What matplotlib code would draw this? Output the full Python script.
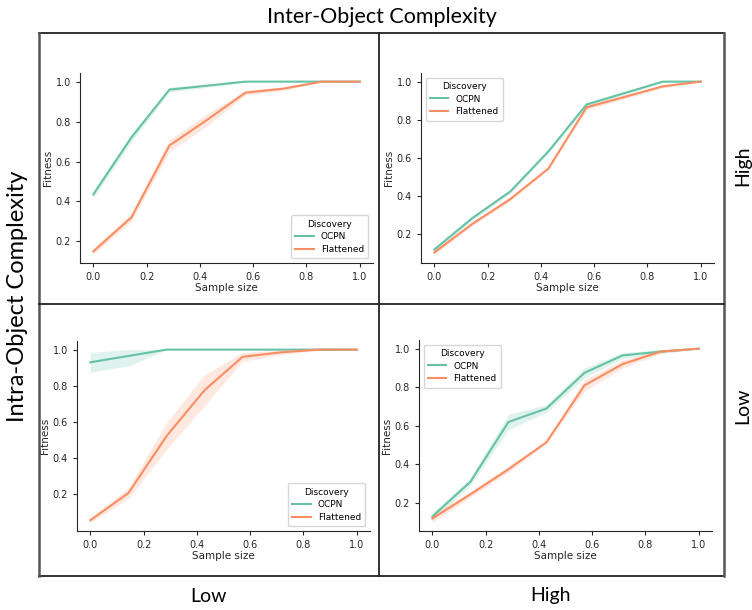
import matplotlib
matplotlib.use("Agg")
import matplotlib.pyplot as plt
from matplotlib.lines import Line2D
import numpy as np

# sample sizes (8 steps)
sample_size = [0.0, 1/7, 2/7, 3/7, 4/7, 5/7, 6/7, 1.0]

# top-left: inter low / intra high
tl_ocpn = [0.435, 0.72, 0.96, 0.98, 1.0, 1.0, 1.0, 1.0]
tl_ocpn_err = [0.02, 0.02, 0.012, 0.008, 0.003, 0.0, 0.0, 0.0]
tl_flat = [0.15, 0.32, 0.68, 0.81, 0.945, 0.965, 1.0, 1.0]
tl_flat_err = [0.015, 0.02, 0.03, 0.03, 0.012, 0.008, 0.004, 0.0]

# top-right: inter high / intra high
tr_ocpn = [0.12, 0.285, 0.425, 0.635, 0.88, 0.94, 1.0, 1.0]
tr_ocpn_err = [0.01, 0.012, 0.01, 0.01, 0.012, 0.01, 0.004, 0.0]
tr_flat = [0.105, 0.255, 0.385, 0.545, 0.865, 0.92, 0.975, 1.0]
tr_flat_err = [0.01, 0.01, 0.01, 0.006, 0.012, 0.01, 0.008, 0.0]

# bottom-left: inter low / intra low
bl_ocpn = [0.93, 0.965, 1.0, 1.0, 1.0, 1.0, 1.0, 1.0]
bl_ocpn_err = [0.055, 0.055, 0.0, 0.0, 0.0, 0.0, 0.0, 0.0]
bl_flat = [0.055, 0.205, 0.52, 0.775, 0.96, 0.985, 1.0, 1.0]
bl_flat_err = [0.012, 0.03, 0.075, 0.085, 0.025, 0.012, 0.004, 0.0]

# bottom-right: inter high / intra low
br_ocpn = [0.13, 0.31, 0.62, 0.69, 0.875, 0.965, 0.985, 1.0]
br_ocpn_err = [0.02, 0.02, 0.04, 0.02, 0.025, 0.015, 0.01, 0.0]
br_flat = [0.12, 0.245, 0.375, 0.515, 0.81, 0.92, 0.985, 1.0]
br_flat_err = [0.02, 0.015, 0.015, 0.006, 0.03, 0.02, 0.01, 0.0]

ocpn_color = "#66c2a5"
flat_color = "#fc8d62"

W, H = 752, 610
fig = plt.figure(figsize=(W / 100, H / 100), dpi=100)


def px_axes(x0, x1, ytop, ybot):
    return fig.add_axes([x0 / W, 1 - ybot / H, (x1 - x0) / W, (ybot - ytop) / H])


panels = [
    (px_axes(80, 373, 73, 263), tl_ocpn, tl_ocpn_err, tl_flat, tl_flat_err, "lower right"),
    (px_axes(421, 714, 73, 263), tr_ocpn, tr_ocpn_err, tr_flat, tr_flat_err, "upper left"),
    (px_axes(77, 370, 341, 531), bl_ocpn, bl_ocpn_err, bl_flat, bl_flat_err, "lower right"),
    (px_axes(419, 712, 340, 531), br_ocpn, br_ocpn_err, br_flat, br_flat_err, "upper left"),
]

x = np.array(sample_size)
for ax, oc, oc_e, fl, fl_e, loc in panels:
    for mean, err, col, name in [(oc, oc_e, ocpn_color, "OCPN"), (fl, fl_e, flat_color, "Flattened")]:
        m = np.array(mean)
        e = np.array(err)
        ax.fill_between(x, m - e, np.minimum(m + e, 1.0), color=col, alpha=0.2, linewidth=0)
        ax.plot(x, m, color=col, lw=1.5, label=name)
    ax.set_xticks([0.0, 0.2, 0.4, 0.6, 0.8, 1.0])
    ax.set_yticks([0.2, 0.4, 0.6, 0.8, 1.0])
    ax.tick_params(labelsize=7, colors="#262626", width=0.8, length=3)
    ax.set_xlabel("Sample size", fontsize=7.5, color="#262626", labelpad=1)
    ax.set_ylabel("Fitness", fontsize=7.5, color="#262626", labelpad=2)
    for s in ["top", "right"]:
        ax.spines[s].set_visible(False)
    for s in ["left", "bottom"]:
        ax.spines[s].set_color("#262626")
        ax.spines[s].set_linewidth(0.8)
    leg = ax.legend(title="Discovery", loc=loc, fontsize=6.5, title_fontsize=6.5,
                    frameon=True, fancybox=True, borderpad=0.5, labelspacing=0.4)
    leg.get_frame().set_edgecolor("#cccccc")

# outer grid box
def fline(x0, y0, x1, y1, c="#222222", lw=1.3):
    fig.add_artist(Line2D([x0 / W, x1 / W], [1 - y0 / H, 1 - y1 / H], color=c, lw=lw))

fline(39, 33, 724, 33)
fline(39, 576, 724, 576)
fline(39, 33, 39, 576, c="#555555", lw=1.8)
fline(724, 33, 724, 576, c="#555555", lw=1.8)
fline(379, 33, 379, 576)
fline(39, 304, 724, 304)

fam = ["Lato", "DejaVu Sans"]
fig.text(382 / W, 1 - 17 / H, "Inter-Object Complexity", ha="center", va="center", fontsize=15.5, family=fam)
fig.text(18 / W, 1 - 296 / H, "Intra-Object Complexity", ha="center", va="center", rotation=90, fontsize=17, family=fam)
fig.text(743 / W, 1 - 166 / H, "High", ha="center", va="center", rotation=90, fontsize=14, family=fam)
fig.text(743 / W, 1 - 406 / H, "Low", ha="center", va="center", rotation=90, fontsize=14, family=fam)
fig.text(208 / W, 1 - 596 / H, "Low", ha="center", va="center", fontsize=14, family=fam)
fig.text(551 / W, 1 - 596 / H, "High", ha="center", va="center", fontsize=14, family=fam)

fig.savefig("out.png", dpi=100)
